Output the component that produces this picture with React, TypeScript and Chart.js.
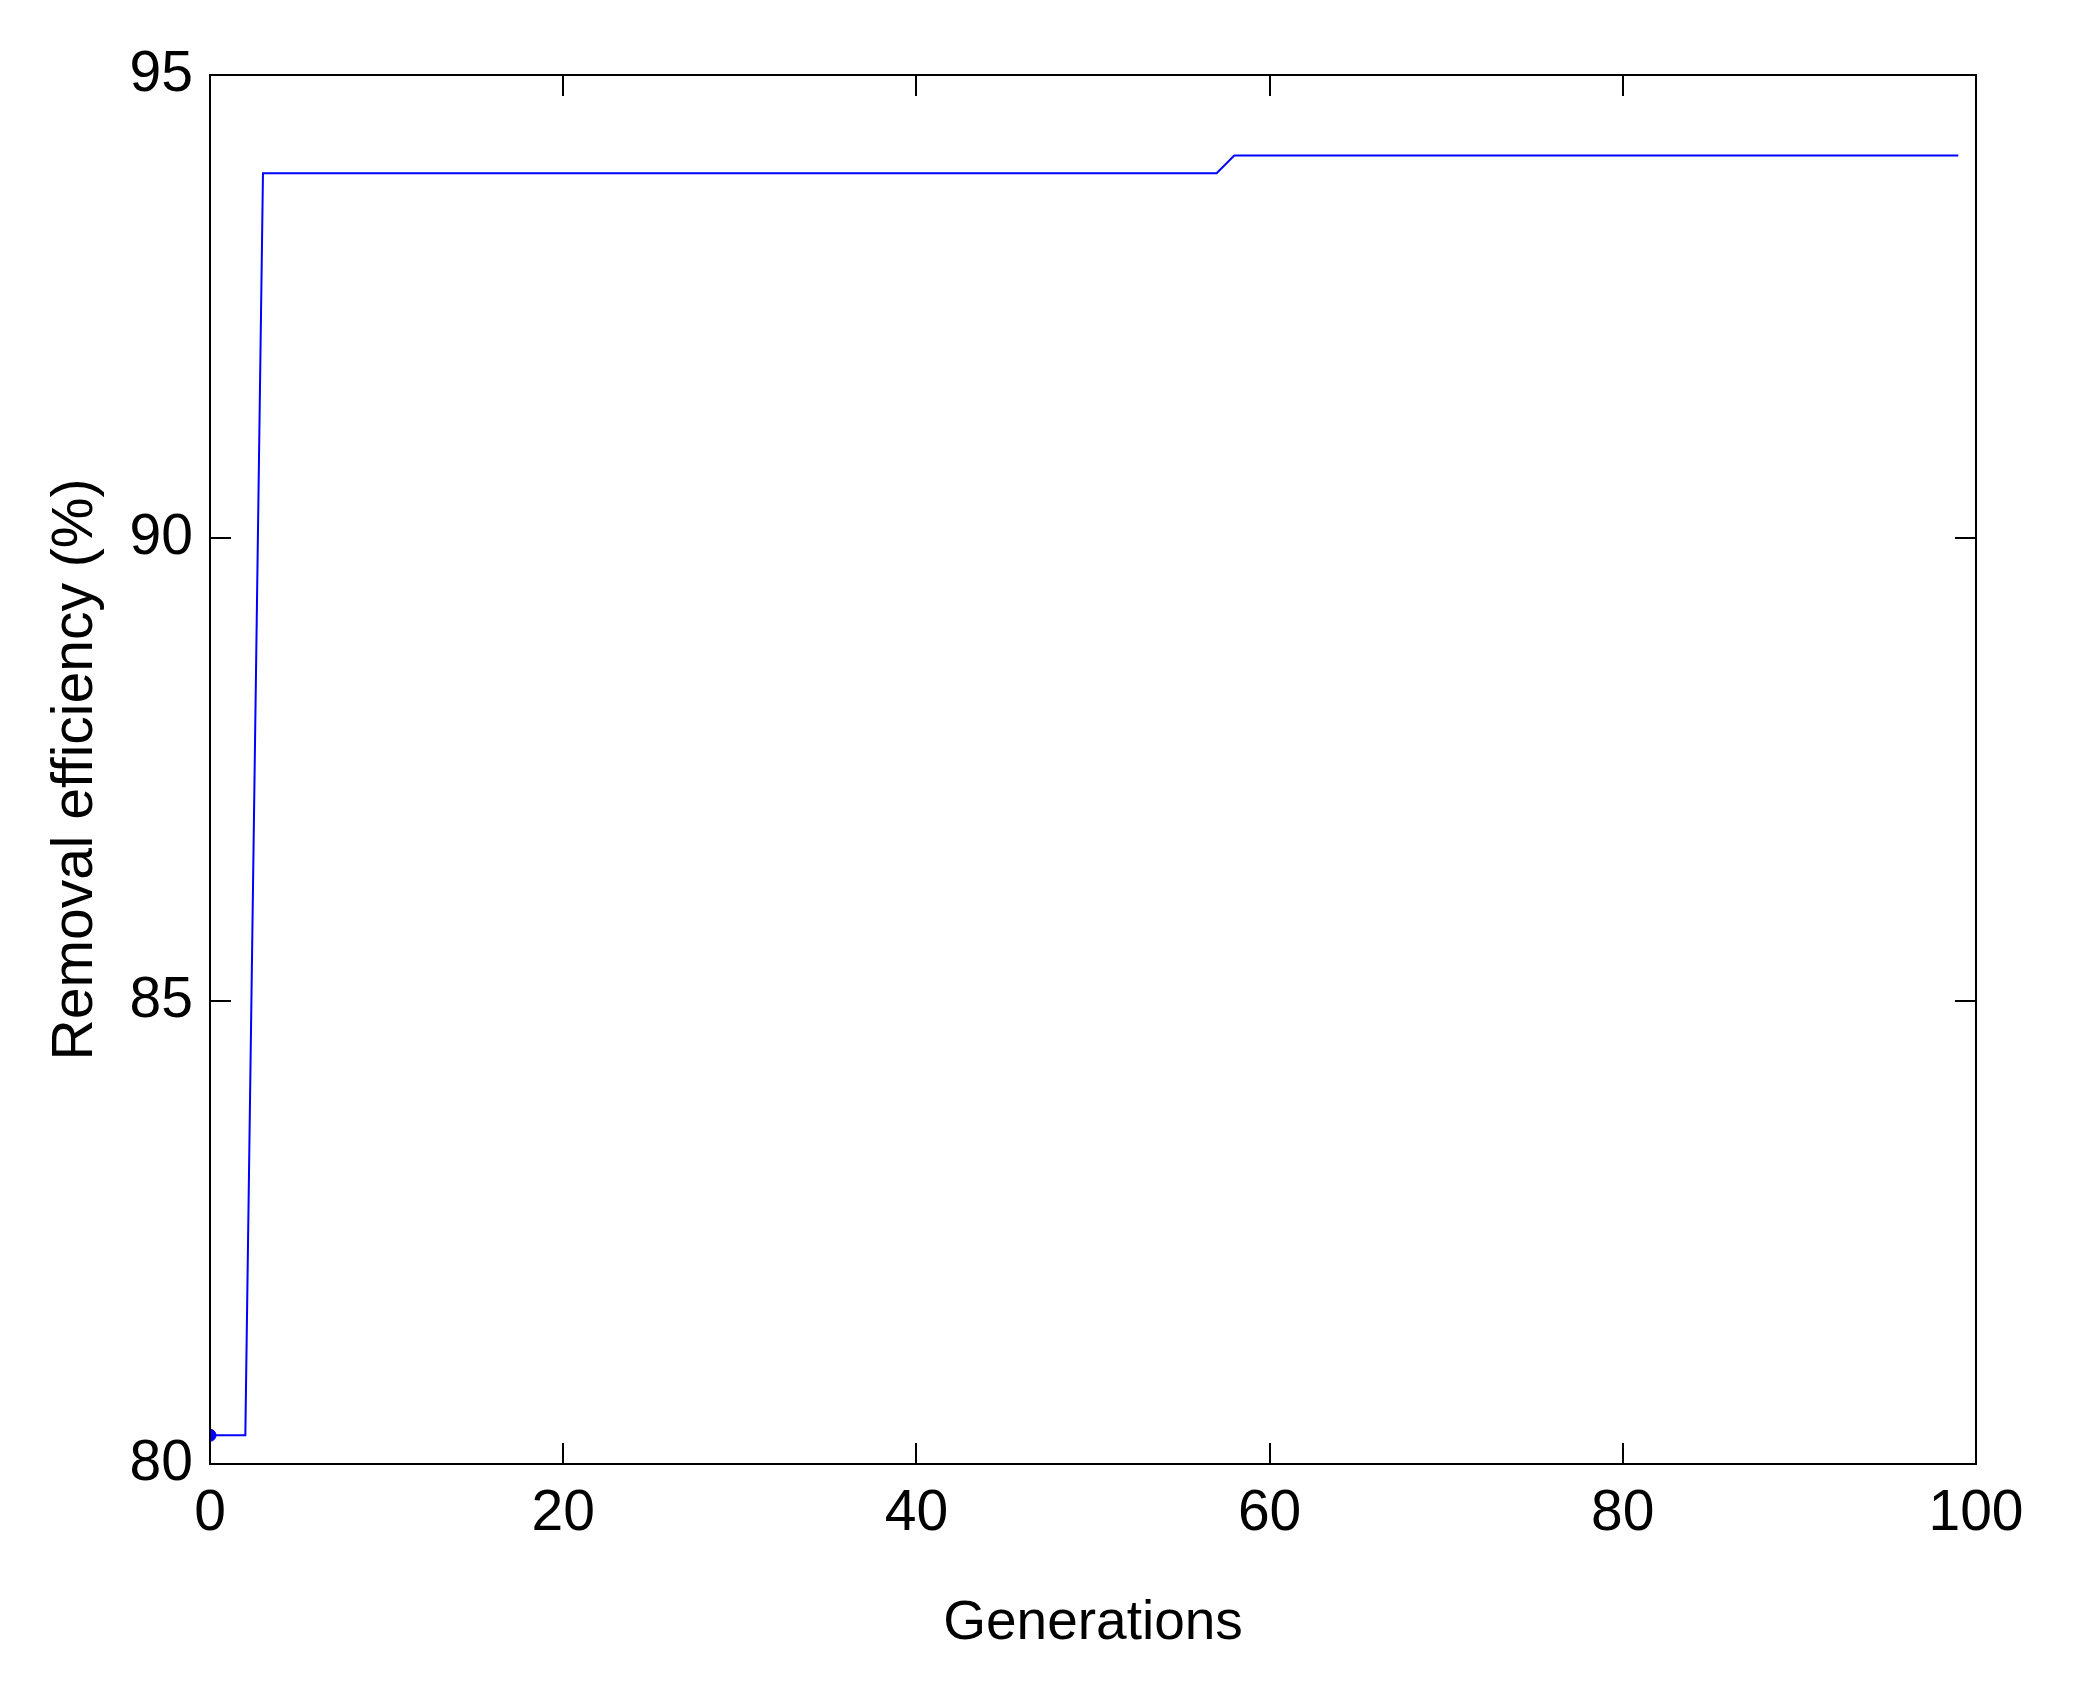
import React, { useEffect, useRef } from "react";
import { Chart, registerables } from "chart.js";

Chart.register(...registerables);

// Breakpoints of the best-so-far curve (generation, removal efficiency %)
const generations = [0, 1, 2, 3, 57, 58, 99];
const efficiency = [80.31, 80.31, 80.31, 93.94, 93.94, 94.13, 94.13];
const startPoint = { x: 0, y: 80.31 };
const xTicks = [0, 20, 40, 60, 80, 100];
const yTicks = [80, 85, 90, 95];
const xTitle = "Generations";
const yTitle = "Removal efficiency (%)";

const FONT = '"Liberation Sans", Arial, Helvetica, sans-serif';

const framePlugin = {
  id: "frame",
  afterDraw(chart: any) {
    const { ctx, chartArea } = chart;
    const { left, right, top, bottom } = chartArea;
    const xs = chart.scales.x;
    const ys = chart.scales.y;
    const tl = 21;
    ctx.save();
    ctx.strokeStyle = "#000";
    ctx.lineWidth = 2;
    ctx.beginPath();
    xTicks.forEach((v) => {
      const px = Math.round(xs.getPixelForValue(v));
      ctx.moveTo(px, bottom);
      ctx.lineTo(px, bottom - tl);
      ctx.moveTo(px, top);
      ctx.lineTo(px, top + tl);
    });
    yTicks.forEach((v) => {
      const py = Math.round(ys.getPixelForValue(v));
      ctx.moveTo(left, py);
      ctx.lineTo(left + tl, py);
      ctx.moveTo(right, py);
      ctx.lineTo(right - tl, py);
    });
    ctx.stroke();
    ctx.strokeRect(left, top, right - left, bottom - top);
    ctx.restore();
  },
};

export default function App() {
  const ref = useRef<HTMLCanvasElement | null>(null);
  useEffect(() => {
    if (!ref.current) return;
    const chart = new Chart(ref.current, {
      type: "line",
      data: {
        datasets: [
          {
            data: generations.map((g, i) => ({ x: g, y: efficiency[i] })),
            borderColor: "#0000ff",
            borderWidth: 2,
            pointRadius: 0,
            tension: 0,
            fill: false,
          },
          {
            data: [startPoint],
            borderColor: "#0000ff",
            backgroundColor: "#0000ff",
            pointRadius: 6,
            borderWidth: 1,
            showLine: false,
          },
        ],
      },
      plugins: [framePlugin],
      options: {
        responsive: false,
        animation: false,
        layout: { padding: { left: 0, top: 75, right: 108, bottom: 0 } },
        plugins: { legend: { display: false }, tooltip: { enabled: false } },
        scales: {
          x: {
            type: "linear",
            min: 0,
            max: 100,
            afterBuildTicks: (s: any) => {
              s.ticks = xTicks.map((v) => ({ value: v }));
            },
            afterFit: (s: any) => {
              s.height = 219;
            },
            grid: { display: false, drawTicks: false },
            border: { display: false },
            ticks: {
              color: "#000",
              font: { family: FONT, size: 57 },
              padding: 16,
              maxRotation: 0,
            },
            title: {
              display: true,
              text: xTitle,
              color: "#000",
              font: { family: FONT, size: 55 },
              padding: { top: 26, bottom: 26 },
            },
          },
          y: {
            type: "linear",
            min: 80,
            max: 95,
            afterBuildTicks: (s: any) => {
              s.ticks = yTicks.map((v) => ({ value: v }));
            },
            afterFit: (s: any) => {
              s.width = 210;
            },
            grid: { display: false, drawTicks: false },
            border: { display: false },
            ticks: {
              color: "#000",
              font: { family: FONT, size: 57 },
              padding: 17,
            },
            title: {
              display: true,
              text: yTitle,
              color: "#000",
              font: { family: FONT, size: 57 },
              padding: { top: 42, bottom: 42 },
            },
          },
        },
      },
    } as any);
    return () => chart.destroy();
  }, []);
  return (
    <div style={{ position: "fixed", left: 0, top: 0, width: 2084, height: 1683, background: "#fff" }}>
      <canvas ref={ref} width={2084} height={1683} style={{ width: 2084, height: 1683, display: "block" }} />
    </div>
  );
}
